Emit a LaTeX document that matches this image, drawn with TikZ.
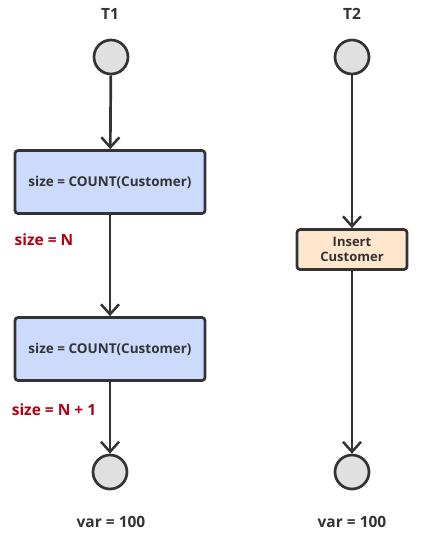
\documentclass[tikz,border=0pt]{standalone}
\usepackage{fontspec}
\setmainfont{Open Sans}
\usetikzlibrary{arrows.meta}
\definecolor{ink}{HTML}{333333}
\definecolor{bluefill}{HTML}{CCDAFC}
\definecolor{orangefill}{HTML}{FFE6CC}
\definecolor{greyfill}{HTML}{E0E0E0}
\definecolor{redtxt}{HTML}{B20012}
\tikzset{
  x=1pt,y=-1pt,
  state/.style={circle,draw=ink,fill=greyfill,line width=2.7pt,minimum size=34pt,inner sep=0pt},
  bluebox/.style={draw=ink,fill=bluefill,line width=2.7pt,rounded corners=3pt,minimum width=190pt,minimum height=63pt,font=\fontsize{13.5}{16}\selectfont\bfseries,text=ink},
  orangebox/.style={draw=ink,fill=orangefill,line width=2.7pt,rounded corners=3pt,minimum width=110pt,minimum height=40pt,font=\fontsize{13}{15.5}\selectfont\bfseries,text=ink,align=center,inner sep=1pt},
  title/.style={font=\fontsize{15.5}{18}\selectfont\bfseries,text=ink},
  redlabel/.style={font=\fontsize{15.5}{18}\selectfont\bfseries,text=redtxt},
  flow/.style={draw=ink,line width=2.7pt,-{Straight Barb[length=10pt,width=18pt,line width=2.5pt]}}
}
\begin{document}
\begin{tikzpicture}
\useasboundingbox (0,0) rectangle (423,542);
\node[title] (t1) at (110,14) {T1};
\node[title] (t2) at (352,14) {T2};
\node[state] (s1) at (111,57) {};
\node[bluebox] (b1) at (110,182) {size = COUNT(Customer)};
\node[bluebox] (b2) at (110,349) {size = COUNT(Customer)};
\node[state] (e1) at (110,472) {};
\node[title] (v1) at (111,522) {var = 100};
\node[redlabel] (l1) at (44,240) {size = N};
\node[redlabel] (l2) at (54,410) {size = N + 1};
\node[state] (s2) at (352,57) {};
\node[orangebox] (o1) at (352,249.5) {Insert\\Customer};
\node[state] (e2) at (352,472) {};
\node[title] (v2) at (352,522) {var = 100};
\draw[flow] (s1) -- (b1);
\draw[flow] (b1) -- (b2);
\draw[flow] (b2) -- (e1);
\draw[flow] (s2) -- (o1);
\draw[flow] (o1) -- (e2);
\end{tikzpicture}
\end{document}
